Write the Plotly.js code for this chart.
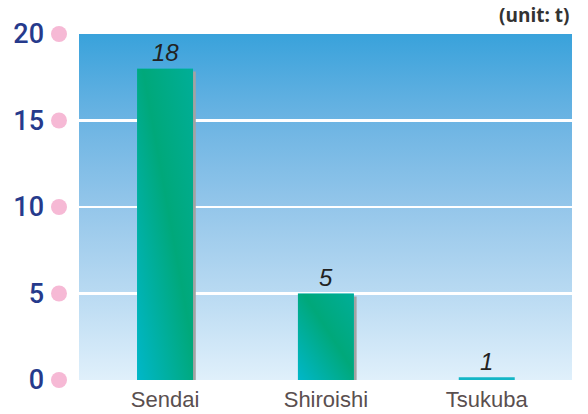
<!DOCTYPE html>
<html>
<head>
<meta charset="utf-8">
<script src="https://cdn.plot.ly/plotly-3.0.1.min.js"></script>
<style>
  html, body { margin: 0; padding: 0; background: #ffffff; }
  #chart { width: 588px; height: 414px; }
</style>
</head>
<body>
<div id="chart"></div>
<script>
// ---- data ----
const categories = ["Sendai", "Shiroishi", "Tsukuba"];
const values = [18, 5, 0.16];          // bar heights as drawn
const valueLabels = ["18", "5", "1"];  // printed labels
const yTickVals = [0, 5, 10, 15, 20];
const yTickText = ["0", "5", "10", "15", "20"];
const unitLabel = "(unit: t)";

// ---- helpers ----
const yRange = [0, 20];
const idx = categories.map((c, i) => i);
const barW = 0.348;
const shadowShift = 0.017;   // in category units
const shadowDrop = 0.17;     // in value units

function svgUri(svg) { return "data:image/svg+xml;charset=utf-8," + encodeURIComponent(svg); }

const bgSvg = svgUri(
  '<svg xmlns="http://www.w3.org/2000/svg" width="100" height="100" preserveAspectRatio="none">' +
  '<defs><linearGradient id="g" x1="0" y1="0" x2="0" y2="1">' +
  '<stop offset="0" stop-color="#39a2db"/>' +
  '<stop offset="0.25" stop-color="#6cb4e3"/>' +
  '<stop offset="0.5" stop-color="#94c6ea"/>' +
  '<stop offset="0.75" stop-color="#b9daf2"/>' +
  '<stop offset="1" stop-color="#e0f0fb"/>' +
  '</linearGradient></defs><rect width="100" height="100" fill="url(#g)"/></svg>');

const barSvg = svgUri(
  '<svg xmlns="http://www.w3.org/2000/svg" width="100" height="100" preserveAspectRatio="none">' +
  '<defs><linearGradient id="b" x1="0" y1="1" x2="1" y2="0">' +
  '<stop offset="0" stop-color="#00b7c9"/>' +
  '<stop offset="0.55" stop-color="#00a87a"/>' +
  '<stop offset="1" stop-color="#00ae98"/>' +
  '</linearGradient></defs><rect width="100" height="100" fill="url(#b)"/></svg>');

const images = [{
  source: bgSvg, xref: "paper", yref: "paper", x: 0, y: 1, sizex: 1, sizey: 1,
  xanchor: "left", yanchor: "top", sizing: "stretch", layer: "below"
}];
values.forEach((v, i) => {
  if (v >= 1) {
    images.push({
      source: barSvg, xref: "x", yref: "y", x: i - barW / 2, y: v, sizex: barW, sizey: v,
      xanchor: "left", yanchor: "top", sizing: "stretch", layer: "above"
    });
  }
});

const shadow = {
  type: "bar", x: idx, y: values.map(v => Math.max(v - shadowDrop, 0)),
  width: barW, offset: -barW / 2 + shadowShift,
  marker: { color: "#a3a3a3", line: { width: 0 } },
  hoverinfo: "skip", showlegend: false
};
const bars = {
  type: "bar", x: idx, y: values, width: barW, offset: -barW / 2,
  marker: { color: "#14b6c6", line: { width: 0 } },
  hoverinfo: "skip", showlegend: false
};

// pink dots beside the y tick labels (paper refs so they are not clipped)
const shapes = yTickVals.map(v => ({
  type: "circle", xref: "paper", yref: "paper",
  xsizemode: "pixel", ysizemode: "pixel", xanchor: 0,
  yanchor: (v - yRange[0]) / (yRange[1] - yRange[0]),
  x0: -28, x1: -12, y0: -8, y1: 8,
  fillcolor: "#f6b9d5", line: { width: 0 }, layer: "above"
}));

const annotations = values.map((v, i) => ({
  x: i, y: v, xref: "x", yref: "y", text: valueLabels[i], showarrow: false,
  yanchor: "middle", yshift: 16,
  font: { family: "Liberation Sans, Arial, sans-serif", size: 24, color: "#222222", style: "italic" }
}));
annotations.push({
  x: 1, y: 1, xref: "paper", yref: "paper", xanchor: "right", yanchor: "bottom",
  yshift: 4, xshift: 0, text: unitLabel, showarrow: false,
  font: { family: "Open Sans, Liberation Sans, Arial, sans-serif", size: 19, color: "#333333", weight: "bold" }
});

const layout = {
  width: 588, height: 414,
  margin: { l: 79, r: 16, t: 34, b: 34, pad: 0 },
  paper_bgcolor: "#ffffff", plot_bgcolor: "rgba(0,0,0,0)",
  barmode: "overlay",
  xaxis: {
    range: [-0.535, 2.53], tickvals: idx, ticktext: categories,
    showgrid: false, zeroline: false, showline: false, ticks: "",
    tickfont: { family: "Liberation Sans, Arial, sans-serif", size: 22, color: "#5a4f4f" },
    ticklabelstandoff: 4, fixedrange: true
  },
  yaxis: {
    range: yRange, tickvals: yTickVals, ticktext: yTickText,
    showgrid: true, gridcolor: "#ffffff", gridwidth: 2.5, zeroline: false, showline: false, ticks: "",
    tickfont: { family: "Roboto, Liberation Sans, Arial, sans-serif", size: 27, color: "#263a8c", weight: 500 },
    ticklabelstandoff: 34, fixedrange: true
  },
  images: images,
  shapes: shapes,
  annotations: annotations,
  showlegend: false
};

Plotly.newPlot("chart", [shadow, bars], layout, { displayModeBar: false, staticPlot: true });
</script>
</body>
</html>
